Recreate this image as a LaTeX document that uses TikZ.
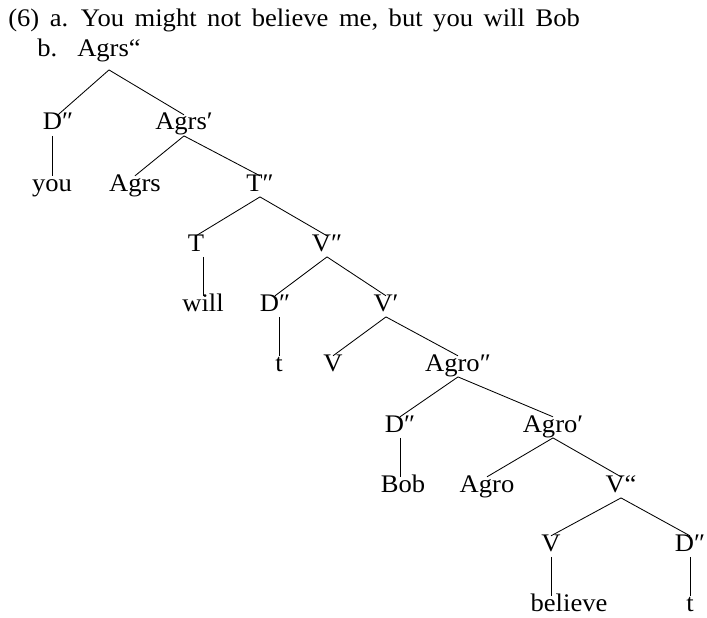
\documentclass[tikz,border=0pt]{standalone}
\usepackage{fontspec}
\setmainfont{Liberation Serif}[FakeStretch=1.05]
\usetikzlibrary{positioning}

\begin{document}
\begin{tikzpicture}[
        x=0.025cm,
        y=-0.025cm,
        font=\fontsize{18}{21}\selectfont,
        cat/.style={
            anchor=base,
            text height=0.66em,
            text depth=0pt,
            inner xsep=1pt,
            inner ysep=4pt
        },
        branch/.style={
            draw=black,
            line width=0.6pt
        }
    ]

        \useasboundingbox (0,0) rectangle (707,617);

        % Eksempelsaetning
        \node[anchor=base west, inner sep=0pt] (sent) at (8,27)
            {\spaceskip=7.5pt (6) a. You might not believe me, but you will Bob};

        % Rod
        \node[cat, inner ysep=9pt] (agrsmax) at (109,57) {Agrs“};
        \node[base left=0.45cm of agrsmax, inner sep=0pt] (itemb) {b.};

        % Agrs-niveau
        \node[cat] (dspec) at (58,130) {D″};
        \node[cat] (agrsbar) at (184,130) {Agrs′};
        \node[cat] (you) at (52,191) {you};
        \node[cat] (agrs) at (135,191) {Agrs};
        \node[cat] (tmax) at (260,191) {T″};

        % T-niveau
        \node[cat] (thead) at (196,251) {T};
        \node[cat] (vmax) at (327,251) {V″};
        \node[cat] (will) at (203,311) {will};
        \node[cat] (dsubj) at (275,311) {D″};
        \node[cat] (vbar) at (386,311) {V′};
        \node[cat] (tsubj) at (279,371) {t};
        \node[cat] (vhead) at (333,371) {V};

        % Agro-niveau
        \node[cat] (agromax) at (458,371) {Agro″};
        \node[cat] (dobj) at (400,432) {D″};
        \node[cat] (agrobar) at (553,432) {Agro′};
        \node[cat] (bob) at (403,492) {Bob};
        \node[cat] (agro) at (487,492) {Agro};
        \node[cat] (vmaxlow) at (621,492) {V“};

        % Nederste VP
        \node[cat] (vlow) at (551,551) {V};
        \node[cat] (dlow) at (690,551) {D″};
        \node[cat] (believe) at (569,611) {believe};
        \node[cat] (tobj) at (690,611) {t};

        % Grene
        \draw[branch] (agrsmax.south) -- (dspec.north);
        \draw[branch] (agrsmax.south) -- (agrsbar.north);
        \draw[branch] (dspec.south -| you.north) -- (you.north);
        \draw[branch] (agrsbar.south) -- (agrs.north);
        \draw[branch] (agrsbar.south) -- (tmax.north);
        \draw[branch] (tmax.south) -- (thead.north);
        \draw[branch] (tmax.south) -- (vmax.north);
        \draw[branch] (thead.south -| will.north) -- (will.north);
        \draw[branch] (vmax.south) -- (dsubj.north);
        \draw[branch] (vmax.south) -- (vbar.north);
        \draw[branch] (dsubj.south -| tsubj.north) -- (tsubj.north);
        \draw[branch] (vbar.south) -- (vhead.north);
        \draw[branch] (vbar.south) -- (agromax.north);
        \draw[branch] (agromax.south) -- (dobj.north);
        \draw[branch] (agromax.south) -- (agrobar.north);
        \draw[branch] (dobj.south) -- (dobj.south |- bob.north);
        \draw[branch] (agrobar.south) -- (agro.north);
        \draw[branch] (agrobar.south) -- (vmaxlow.north);
        \draw[branch] (vmaxlow.south) -- (vlow.north);
        \draw[branch] (vmaxlow.south) -- (dlow.north);
        \draw[branch] (vlow.south) -- (vlow.south |- believe.north);
        \draw[branch] (dlow.south) -- (tobj.north);

    \end{tikzpicture}
\end{document}
